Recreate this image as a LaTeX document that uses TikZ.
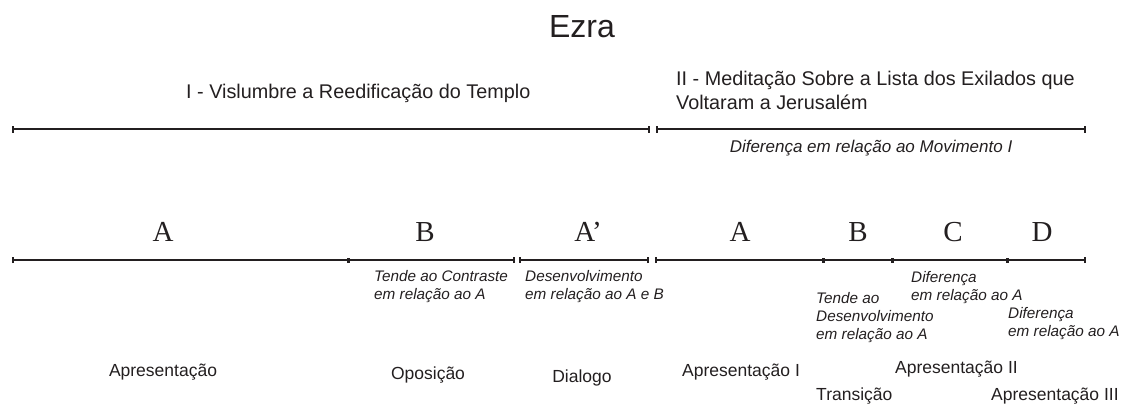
\documentclass[tikz,border=0pt]{standalone}
\usepackage{fontspec}
\setmainfont{Liberation Sans}
\newfontfamily\serifletters{Liberation Serif}
\definecolor{ink}{HTML}{231F20}
\begin{document}
\begin{tikzpicture}[x=1pt,y=-1pt,
  every node/.style={text=ink, inner sep=0pt},
  tl/.style={draw=ink, line width=2.4pt},
  endtick/.style={draw=ink, line width=2.6pt},
  midtick/.style={draw=ink, line width=3pt},
  title/.style={font=\fontsize{32}{36}\selectfont},
  head/.style={font=\fontsize{19.8}{24}\selectfont, align=left, anchor=west},
  letter/.style={font=\serifletters\fontsize{29}{30}\selectfont},
  note/.style={font=\itshape\fontsize{15.3}{18}\selectfont, align=left, anchor=north west},
  label/.style={font=\fontsize{17.5}{18}\selectfont}
]
\useasboundingbox (0,0) rectangle (1126,404);
\node[title] (ezra) at (582,27) {Ezra};
\node[head] (h1) at (186,93) {I - Vislumbre a Reedificação do Templo};
\node[head] (h2) at (676,90) {II - Meditação Sobre a Lista dos Exilados que\\Voltaram a Jerusalém};

% top lines
\coordinate (t1a) at (13,129); \coordinate (t1b) at (649,129);
\coordinate (t2a) at (657,129); \coordinate (t2b) at (1085,129);
\draw[tl] (t1a) -- (t1b);
\draw[tl] (t2a) -- (t2b);
\foreach \p in {t1a,t1b,t2a,t2b}{
  \draw[endtick] ([yshift=-3.5pt]\p) -- ([yshift=3.5pt]\p);
}
\node[font=\itshape\fontsize{17}{20}\selectfont] (dif) at (871,148) {Diferença em relação ao Movimento I};

% letters
\node[letter] (LA) at (163,232) {A};
\node[letter] (LB) at (425,232) {B};
\node[letter] (LA2) at (588,232) {A’};
\node[letter] (LA3) at (740,232) {A};
\node[letter] (LB2) at (858,232) {B};
\node[letter] (LC) at (953,232) {C};
\node[letter] (LD) at (1042,232) {D};

% bottom line
\coordinate (b1) at (13,260); \coordinate (b2) at (348,260); \coordinate (b3) at (514,260);
\coordinate (b4) at (520,260); \coordinate (b5) at (648,260);
\coordinate (b6) at (656,260); \coordinate (b7) at (823,260); \coordinate (b8) at (892,260);
\coordinate (b9) at (1007,260); \coordinate (b10) at (1085,260);
\draw[tl] (b1) -- (b3);
\draw[tl] (b4) -- (b5);
\draw[tl] (b6) -- (b10);
\foreach \p in {b1,b3,b4,b5,b6,b10}{
  \draw[endtick] ([yshift=-3pt]\p) -- ([yshift=3pt]\p);
}
\foreach \p in {b2,b7,b8,b9}{
  \draw[midtick] ([yshift=-2.5pt]\p) -- ([yshift=2.5pt]\p);
}

% notes
\node[note] (nB) at (374,270) {Tende ao Contraste\\em relação ao A};
\node[note] (nA2) at (525,270) {Desenvolvimento\\em relação ao A e B};
\node[note] (nB2) at (816,292) {Tende ao\\Desenvolvimento\\em relação ao A};
\node[note] (nC) at (911,271) {Diferença\\em relação ao A};
\node[note] (nD) at (1008,307) {Diferença\\em relação ao A};

% labels
\node[label] (pA) at (163,372) {Apresentação};
\node[label] (pB) at (428,375) {Oposição};
\node[label] (pA2) at (582,378) {Dialogo};
\node[label, anchor=west] (pA3) at (682,372) {Apresentação I};
\node[label, anchor=west] (pB2) at (816,396) {Transição};
\node[label, anchor=west] (pC) at (895,369) {Apresentação II};
\node[label, anchor=west] (pD) at (991,396) {Apresentação III};
\end{tikzpicture}
\end{document}
